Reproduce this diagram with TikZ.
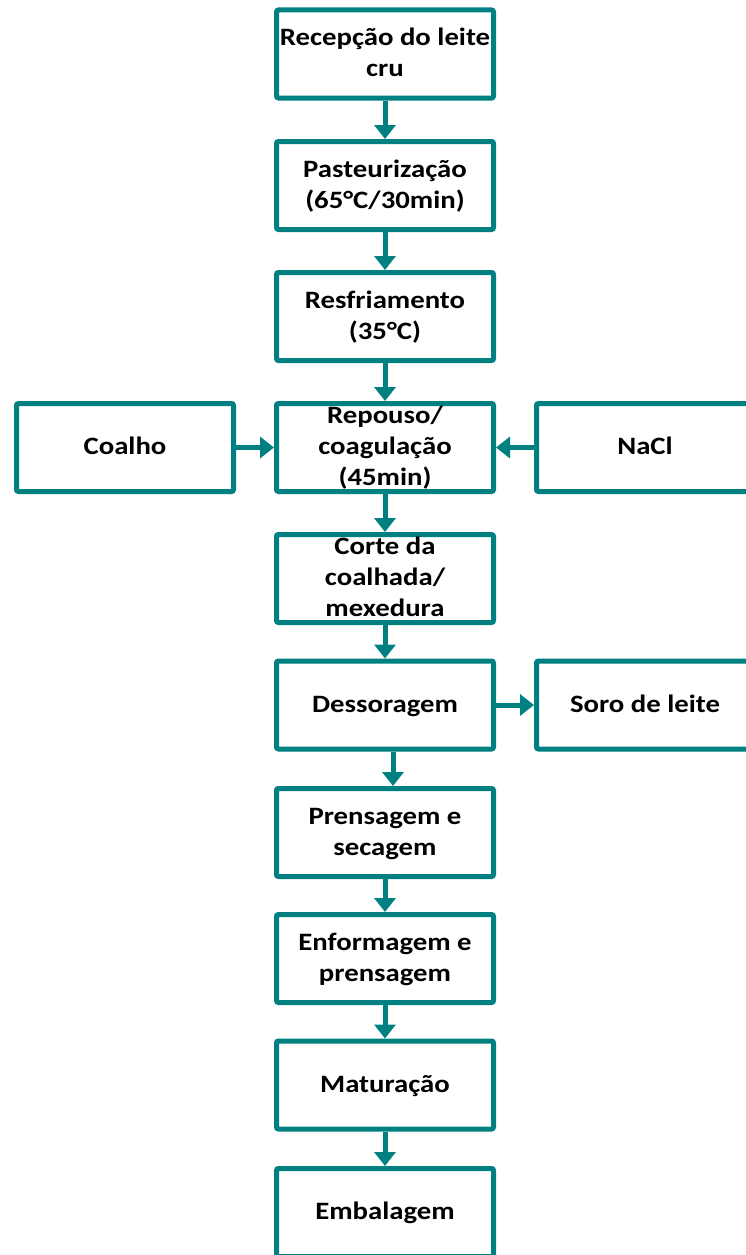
\documentclass[tikz,border=0pt]{standalone}
\usepackage{fontspec}
\setmainfont{Carlito}[FakeStretch=1.15]
\usetikzlibrary{arrows.meta}
\definecolor{teal1}{RGB}{0,128,128}
\tikzset{
  box/.style={draw=teal1, line width=5pt, rounded corners=2pt, fill=white,
    minimum width=217pt, minimum height=88pt, inner sep=0pt,
    font=\fontsize{25}{31}\selectfont\bfseries},
  flow/.style={draw=teal1, line width=5pt, -{Triangle[length=14pt,width=21pt]}}
}
\newcommand{\lines}[1]{\smash{\raisebox{-7.5pt}{\setlength\tabcolsep{0pt}\begin{tabular}{c}#1\end{tabular}}}}
\begin{document}
\begin{tikzpicture}[x=1pt,y=-1pt]
\useasboundingbox (0,0) rectangle (745,1255);
\node[box] (rec) at (385,54) {\lines{Recepção do leite\\cru}};
\node[box] (pas) at (385,185.5) {\lines{Pasteurização\\(65°C/30min)}};
\node[box] (res) at (385,316.5) {\lines{Resfriamento\\(35°C)}};
\node[box] (rep) at (385,447.5) {\lines{Repouso/\\coagulação\\(45min)}};
\node[box] (coa) at (125,447.5) {\lines{Coalho}};
\node[box] (nac) at (645,447.5) {\lines{NaCl}};
\node[box] (cor) at (385,578.5) {\lines{Corte da\\coalhada/\\mexedura}};
\node[box] (des) at (385,705) {\lines{Dessoragem}};
\node[box] (sor) at (645,705) {\lines{Soro de leite}};
\node[box] (pre) at (385,832.5) {\lines{Prensagem e\\secagem}};
\node[box] (enf) at (385,958.5) {\lines{Enformagem e\\prensagem}};
\node[box] (mat) at (385,1085) {\lines{Maturação}};
\node[box] (emb) at (385,1212.5) {\lines{Embalagem}};
\draw[flow] (rec) -- (pas);
\draw[flow] (pas) -- (res);
\draw[flow] (res) -- (rep);
\draw[flow] (coa) -- (rep);
\draw[flow] (nac) -- (rep);
\draw[flow] (rep) -- (cor);
\draw[flow] (cor) -- (des);
\draw[flow] (des) -- (sor);
\draw[flow] ([xshift=8pt]des.south) -- ([xshift=8pt]pre.north);
\draw[flow] (pre) -- (enf);
\draw[flow] (enf) -- (mat);
\draw[flow] (mat) -- (emb);
\end{tikzpicture}
\end{document}
